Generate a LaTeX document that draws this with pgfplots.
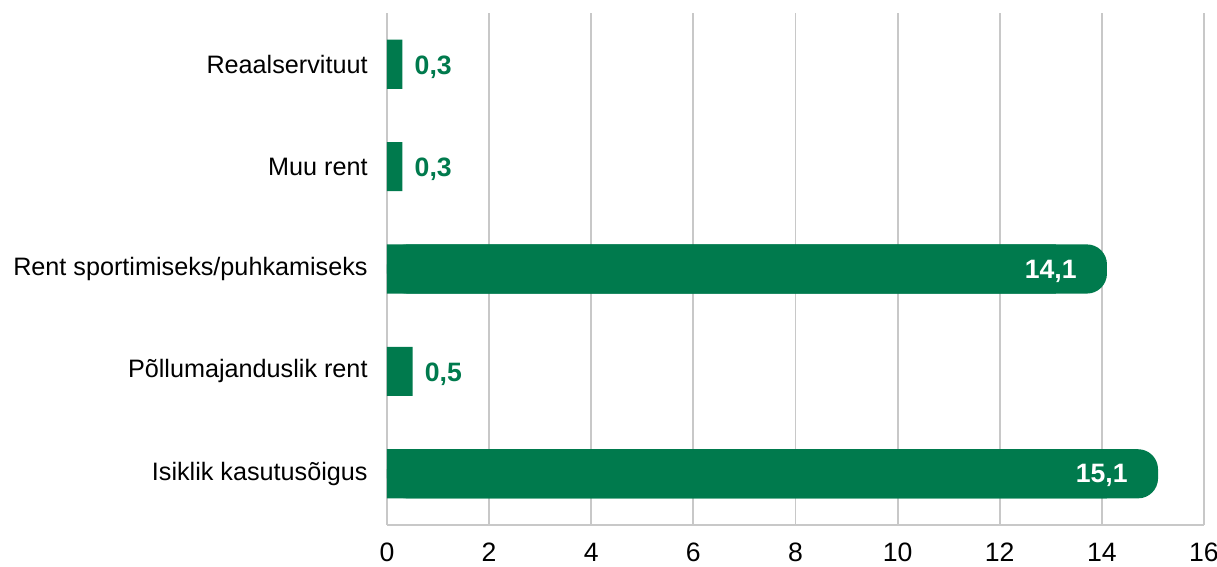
\documentclass[border=0pt]{standalone}
\usepackage{pgfplots}
\pgfplotsset{compat=1.18}
\usepackage{fontspec}
\setmainfont{Liberation Sans}
\definecolor{grn}{HTML}{007A4D}
\definecolor{gridgray}{HTML}{C8C8C8}
\begin{document}
\begin{tikzpicture}
\useasboundingbox (-193.5pt,-21pt) rectangle (415pt,262.5pt);
\begin{axis}[
  at={(0,0)}, anchor=south west,
  scale only axis, width=408.5pt, height=256pt,
  xmin=0, xmax=16, ymin=-0.5, ymax=4.5,
  xtick={0,2,...,16},
  ytick={0,1,2,3,4},
  yticklabels={Isiklik kasutusõigus, Põllumajanduslik rent, Rent sportimiseks/puhkamiseks, Muu rent, Reaalservituut},
  axis x line*=bottom, axis y line*=left,
  axis line style={gridgray, line width=0.9pt},
  y axis line style={draw=none},
  xmajorgrids, grid style={gridgray, line width=0.9pt},
  major tick length=0pt,
  tick style={draw=none},
  /pgf/number format/assume math mode=true,
  yticklabel style={font=\fontsize{12.6pt}{14pt}\selectfont, inner sep=0pt, xshift=-9.5pt},
  xticklabel style={font=\fontsize{13.3pt}{15pt}\selectfont, inner sep=0pt, yshift=-9pt},
  bar width=0.48,
]
% square base of the long bars
\addplot[xbar, bar shift=0pt, fill=grn, draw=none, x filter/.expression={x-1}]
  coordinates {(14.1,2) (15.1,0)};
% long bars with rounded ends and inside labels
\addplot[xbar, bar shift=0pt, fill=grn, draw=none, rounded corners=10pt,
  nodes near coords={\pgfmathprintnumber[use comma,fixed,fixed zerofill,precision=1]{\pgfplotspointmeta}},
  every node near coord/.append style={anchor=east, inner sep=0pt, xshift=-15pt, yshift=-1pt, text=white,
    font=\bfseries\fontsize{13.3pt}{15pt}\selectfont}]
  coordinates {(14.1,2) (15.1,0)};
% short bars with outside labels
\addplot[xbar, bar shift=0pt, fill=grn, draw=none,
  nodes near coords={\pgfmathprintnumber[use comma,fixed,fixed zerofill,precision=1]{\pgfplotspointmeta}},
  every node near coord/.append style={anchor=west, inner sep=0pt, xshift=6pt, yshift=-1.5pt, text=grn,
    font=\bfseries\fontsize{13.3pt}{15pt}\selectfont}]
  coordinates {(0.3,4) (0.3,3) (0.5,1)};
\end{axis}
\end{tikzpicture}
\end{document}
